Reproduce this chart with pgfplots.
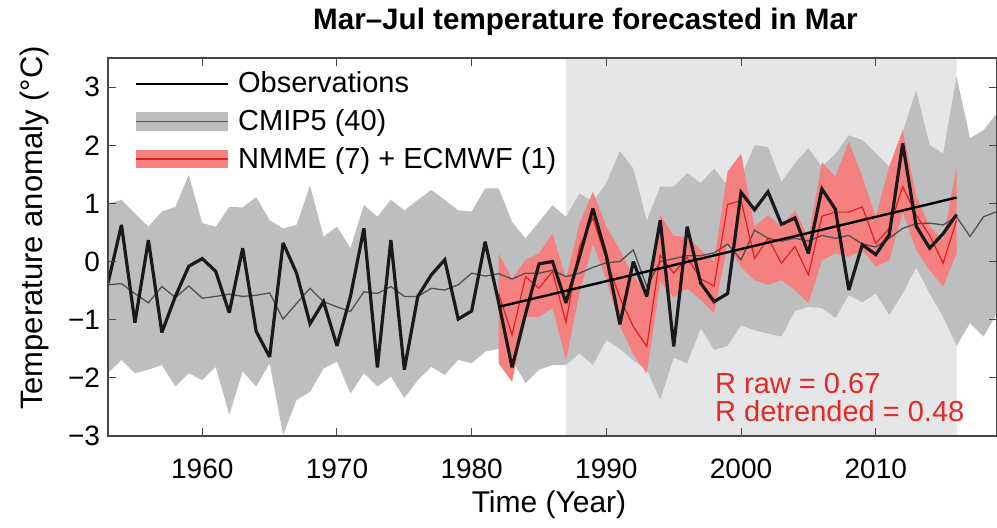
\documentclass[border=0pt]{standalone}
\usepackage{pgfplots}
\pgfplotsset{compat=1.18}
\usepackage{pgfplotstable}
\usepgfplotslibrary{fillbetween}
\usepackage{fontspec}
\setmainfont{Liberation Sans}
\definecolor{bandgrey}{RGB}{189,190,192}
\definecolor{shadegrey}{RGB}{229,230,232}
\definecolor{meangrey}{RGB}{80,80,80}
\definecolor{nmmefill}{RGB}{244,128,128}
\definecolor{nmmeline}{RGB}{228,30,30}
\definecolor{rtext}{RGB}{226,42,38}
\definecolor{axisgrey}{RGB}{70,70,70}

% CMIP5 (40): year, lower, mean, upper
\pgfplotstableread{
year lo mean hi
1953 -1.92 -0.40 1.00
1954 -1.69 -0.38 1.06
1955 -1.92 -0.55 0.83
1956 -1.86 -0.71 0.60
1957 -1.78 -0.43 0.86
1958 -2.15 -0.62 0.94
1959 -1.92 -0.42 1.49
1960 -2.04 -0.63 0.66
1961 -1.81 -0.60 0.60
1962 -2.64 -0.56 0.94
1963 -1.89 -0.60 0.93
1964 -2.15 -0.58 1.11
1965 -1.75 -0.54 0.71
1966 -2.98 -0.99 0.57
1967 -2.38 -0.72 0.63
1968 -2.24 -0.46 1.31
1969 -1.84 -0.69 0.43
1970 -1.72 -0.78 0.60
1971 -2.27 -0.86 0.23
1972 -1.92 -0.52 0.97
1973 -2.15 -0.55 0.77
1974 -1.98 -0.43 1.06
1975 -2.35 -0.60 0.88
1976 -2.04 -0.60 1.06
1977 -1.81 -0.46 1.23
1978 -1.95 -0.49 1.06
1979 -1.69 -0.40 0.88
1980 -1.75 -0.20 0.86
1981 -1.55 -0.25 1.26
1982 -1.50 -0.21 1.26
1983 -1.70 -0.30 0.68
1984 -2.09 -0.20 0.40
1985 -1.86 -0.20 0.68
1986 -1.78 -0.15 0.97
1987 -1.78 -0.26 0.77
1988 -1.58 -0.20 1.17
1989 -1.78 -0.10 1.03
1990 -1.35 -0.02 1.35
1991 -1.50 0.00 1.90
1992 -1.70 0.20 1.60
1993 -1.86 -0.43 0.70
1994 -2.38 0.00 1.29
1995 -1.65 0.05 1.29
1996 -1.75 0.10 1.52
1997 -1.15 0.10 1.35
1998 -1.52 0.15 1.60
1999 -1.45 0.30 1.30
2000 -1.10 0.03 1.45
2001 -1.18 0.54 2.00
2002 -1.24 0.40 1.97
2003 -1.29 0.35 1.37
2004 -0.85 0.40 1.69
2005 -0.78 0.35 1.95
2006 -0.80 0.45 1.63
2007 -0.97 0.40 1.85
2008 -0.58 0.45 2.17
2009 -0.70 0.30 2.09
2010 -0.55 0.25 1.86
2011 -0.92 0.40 1.63
2012 -0.55 0.57 2.23
2013 -0.10 0.65 2.95
2014 -0.55 0.66 2.00
2015 -0.95 0.63 1.86
2016 -1.45 0.77 3.18
2017 -1.06 0.43 2.12
2018 -1.29 0.77 2.26
2019 -0.89 0.86 2.55
}\cmip

% NMME (7) + ECMWF (1): year, lower, mean, upper
\pgfplotstableread{
year lo mean hi
1982 -1.75 -0.55 0.14
1983 -2.07 -1.26 -0.30
1984 -0.95 -0.26 0.03
1985 -0.95 -0.46 0.14
1986 -0.80 -0.17 0.48
1987 -1.70 -1.05 -0.30
1988 -0.55 0.25 0.65
1989 0.30 0.75 1.20
1990 -0.30 0.03 0.60
1991 -1.10 -0.62 0.20
1992 -1.60 -1.12 -0.25
1993 -1.92 -1.46 -0.50
1994 -0.35 0.11 0.80
1995 -0.62 -0.20 0.44
1996 -0.46 0.07 0.42
1997 -0.66 -0.30 0.20
1998 -0.89 -0.42 0.00
1999 0.30 0.98 1.55
2000 -0.10 1.05 1.85
2001 -0.32 0.05 0.60
2002 -0.40 0.40 0.80
2003 -0.32 -0.03 0.60
2004 -0.49 0.26 0.88
2005 -0.72 -0.23 0.40
2006 0.02 0.78 1.71
2007 0.14 0.85 1.46
2008 0.08 0.85 2.06
2009 0.20 0.94 1.46
2010 -0.09 0.31 0.77
2011 0.02 0.57 1.63
2012 0.85 1.29 2.26
2013 0.20 0.80 1.14
2014 -0.15 0.45 0.60
2015 -0.43 -0.03 0.37
2016 0.14 0.71 1.63
}\nmme

% Observations
\pgfplotstableread{
year obs
1953 -0.37
1954 0.63
1955 -1.05
1956 0.37
1957 -1.22
1958 -0.60
1959 -0.08
1960 0.05
1961 -0.17
1962 -0.88
1963 0.23
1964 -1.20
1965 -1.64
1966 0.32
1967 -0.20
1968 -1.07
1969 -0.69
1970 -1.45
1971 -0.60
1972 0.57
1973 -1.82
1974 0.37
1975 -1.86
1976 -0.60
1977 -0.23
1978 0.03
1979 -0.99
1980 -0.85
1981 0.34
1982 -0.70
1983 -1.82
1984 -0.90
1985 -0.04
1986 0.00
1987 -0.71
1988 0.08
1989 0.91
1990 0.10
1991 -1.08
1992 0.00
1993 -0.60
1994 0.71
1995 -1.46
1996 0.60
1997 -0.37
1998 -0.69
1999 -0.55
2000 1.19
2001 0.89
2002 1.20
2003 0.64
2004 0.75
2005 0.14
2006 1.25
2007 0.90
2008 -0.49
2009 0.29
2010 0.12
2011 0.46
2012 2.03
2013 0.61
2014 0.23
2015 0.48
2016 0.81
}\obs

\pgfplotstableread{
year t
1982 -0.78
2016 1.10
}\trend

\begin{document}
\begin{tikzpicture}
\begin{axis}[
  at={(0,0)}, anchor=south west,
  scale only axis, width=444.5pt, height=189pt,
  xmin=1953, xmax=2019, ymin=-3, ymax=3.5,
  xtick={1960,1970,1980,1990,2000,2010},
  xticklabels={1960,1970,1980,1990,2000,2010},
  ytick={-3,-2,-1,0,1,2,3},
  yticklabels={−3,−2,−1,0,1,2,3},
  tick align=inside, major tick length=4pt,
  tick style={axisgrey, line width=0.5pt},
  axis line style={axisgrey, line width=0.6pt},
  set layers, axis on top,
  tick label style={font=\fontsize{14}{14}\selectfont},
  xticklabel style={anchor=base, yshift=-21.5pt},
  yticklabel style={xshift=-0.5pt},
  legend cell align=left,
  legend style={at={(rel axis cs:0.030,0.975)}, anchor=north west,
    draw=none, fill=none, font=\fontsize{14.5}{15}\selectfont,
    row sep=2.8pt, inner sep=0pt,
    nodes={inner sep=2pt}},
]
\addlegendimage{black, line width=1.1pt, legend image code/.code={\draw (0pt,0pt) -- (46pt,0pt); \path[draw=none, fill=none] (0pt,0pt) -- (49pt,0pt);}}
\addlegendentry{Observations}
\addlegendimage{meangrey, line width=0.6pt, legend image code/.code={\fill[bandgrey, draw=none] (0pt,-4.6pt) rectangle (46pt,4.6pt); \draw[meangrey] (0pt,0pt) -- (46pt,0pt); \path[draw=none, fill=none] (0pt,0pt) -- (49pt,0pt);}}
\addlegendentry{CMIP5 (40)}
\addlegendimage{nmmeline, line width=0.6pt, legend image code/.code={\fill[nmmefill, draw=none] (0pt,-4.6pt) rectangle (46pt,4.6pt); \draw[nmmeline] (0pt,0pt) -- (46pt,0pt); \path[draw=none, fill=none] (0pt,0pt) -- (49pt,0pt);}}
\addlegendentry{NMME (7) + ECMWF (1)}

% shaded verification period
\addplot[fill=shadegrey, draw=none, forget plot, on layer=axis background] coordinates {(1987,-3) (2016,-3) (2016,3.5) (1987,3.5)} \closedcycle;

% CMIP5 envelope
\addplot[name path=chi, draw=none, forget plot] table[x=year, y=hi] {\cmip};
\addplot[name path=clo, draw=none, forget plot] table[x=year, y=lo] {\cmip};
\addplot[bandgrey, forget plot] fill between[of=chi and clo];

% NMME envelope
\addplot[name path=nhi, draw=none, forget plot] table[x=year, y=hi] {\nmme};
\addplot[name path=nlo, draw=none, forget plot] table[x=year, y=lo] {\nmme};
\addplot[nmmefill, forget plot] fill between[of=nhi and nlo];

% means
\addplot[meangrey, line width=0.65pt, forget plot] table[x=year, y=mean] {\cmip};
\addplot[nmmeline, line width=0.6pt, forget plot] table[x=year, y=mean] {\nmme};

% observations and trend
\addplot[black!90, line width=1.6pt, line join=miter, miter limit=3, forget plot] table[x=year, y=obs] {\obs};
\addplot[black, line width=1.2pt, forget plot] table[x=year, y=t] {\trend};

\node[anchor=base west, text=rtext, font=\fontsize{14.5}{15}\selectfont, inner sep=0pt] at (axis cs:1998.05,-2.265) {R raw = 0.67};
\node[anchor=base west, text=rtext, font=\fontsize{14.5}{15}\selectfont, inner sep=0pt] at (axis cs:1998.05,-2.75) {R detrended = 0.48};
\end{axis}
\node[anchor=base, font=\bfseries\fontsize{14.8}{15}\selectfont, inner sep=0pt] at (238.7pt,203pt) {Mar–Jul temperature forecasted in Mar};
\node[anchor=base, font=\fontsize{15}{15}\selectfont, inner sep=0pt] at (220.5pt,-38.5pt) {Time (Year)};
\node[anchor=center, rotate=90, font=\fontsize{15.5}{16}\selectfont, inner sep=0pt] at (-37pt,104pt) {Temperature anomaly (°C)};
\pgfresetboundingbox
\path[use as bounding box] (-54pt,-46pt) rectangle (444.5pt,218pt);
\end{tikzpicture}
\end{document}
